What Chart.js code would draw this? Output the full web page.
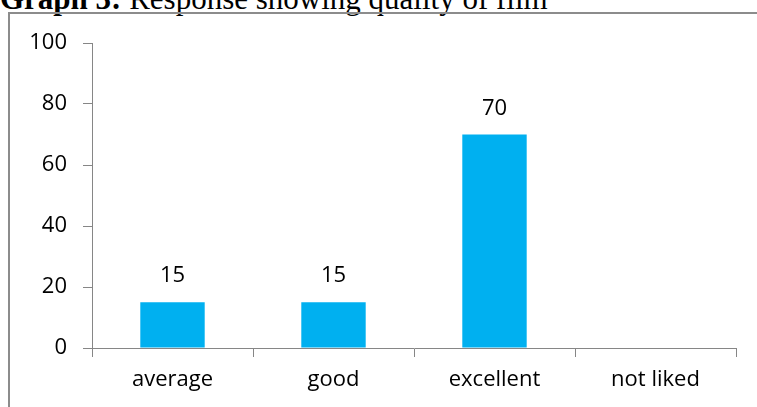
<!DOCTYPE html>
<html>
<head>
<meta charset="utf-8">
<script src="https://cdn.jsdelivr.net/npm/chart.js@4"></script>
<style>
  html, body { margin: 0; padding: 0; background: #fff; }
  body { width: 757px; height: 407px; position: relative; overflow: hidden; }
  #title {
    position: absolute; left: 0; top: -16px;
    font-family: "Liberation Serif", "DejaVu Serif", serif;
    font-size: 31px; line-height: 30px; color: #000; white-space: nowrap;
  }
  #frame {
    position: absolute; left: 8px; top: 12px; width: 760px; height: 400px;
    border-left: 2px solid #8c8c8c; border-top: 2px solid #8c8c8c;
  }
  #wrap { position: absolute; left: 0; top: 0; width: 757px; height: 407px; }
</style>
</head>
<body>
<div id="title"><b>Graph 3:</b> Response showing quality of film</div>
<div id="frame"></div>
<div id="wrap"><canvas id="chart"></canvas></div>
<script>
// Chart data
const categories = ['average', 'good', 'excellent', 'not liked'];
const responses = [15, 15, 70, 0];
const yTicks = [0, 20, 40, 60, 80, 100];

const axisColor = '#868686';
const fontFamily = '"Open Sans", "DejaVu Sans", sans-serif';

// Value labels over the bars
const barLabels = {
  id: 'barLabels',
  afterDatasetsDraw(chart){
    let ctx = chart.ctx;
    let meta = chart.getDatasetMeta(0);
    ctx.save();
    ctx.font = '22px ' + fontFamily;
    ctx.fillStyle = '#000';
    ctx.textAlign = 'center';
    ctx.textBaseline = 'alphabetic';
    meta.data.forEach((bar, i) => {
      let v = responses[i];
      if(!v) return;
      ctx.fillText(String(v), bar.x, bar.y - 20);
    });
    ctx.restore();
  }
};

new Chart(document.getElementById('chart'), {
  type: 'bar',
  data: {
    labels: categories,
    datasets: [{
      data: responses,
      backgroundColor: '#00b0f0',
      borderWidth: 0,
      barPercentage: 0.4,
      categoryPercentage: 1
    }]
  },
  options: {
    responsive: true,
    maintainAspectRatio: false,
    animation: false,
    layout: { padding: { left: 0, top: 43, right: 21, bottom: 0 } },
    plugins: {
      legend: { display: false },
      tooltip: { enabled: false }
    },
    scales: {
      x: {
        grid: {
          display: true, drawOnChartArea: false, offset: true,
          tickLength: 9, color: axisColor
        },
        border: { color: axisColor, width: 1 },
        ticks: { color: '#000', padding: 10, font: { family: fontFamily, size: 22 } },
        afterFit(scale){ scale.height = 59; }
      },
      y: {
        min: 0,
        max: 100,
        afterBuildTicks(scale){ scale.ticks = yTicks.map(v => ({ value: v })); },
        grid: {
          display: true, drawOnChartArea: false,
          tickLength: 9, color: axisColor
        },
        border: { color: axisColor, width: 1 },
        ticks: { color: '#000', padding: 16, font: { family: fontFamily, size: 22 } },
        afterFit(scale){ scale.width = 92; }
      }
    }
  },
  plugins: [barLabels]
});
</script>
</body>
</html>
